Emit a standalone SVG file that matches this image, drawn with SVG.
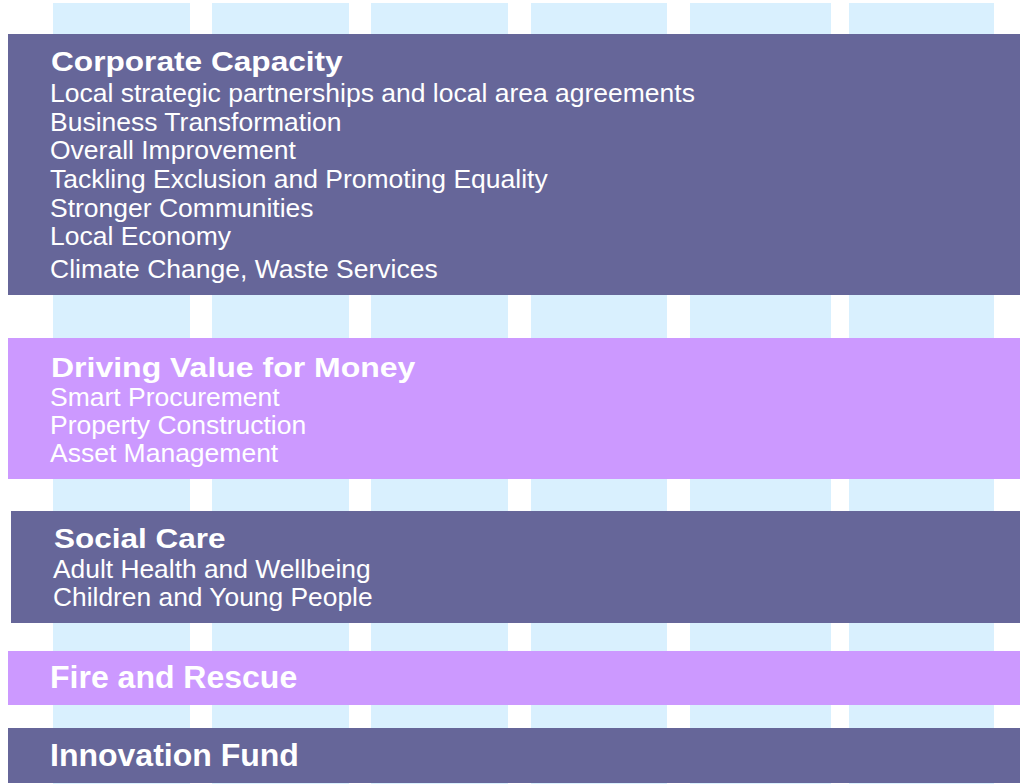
<svg xmlns="http://www.w3.org/2000/svg" width="1020" height="784" viewBox="0 0 1020 784">
<style>
.col{fill:#D9F0FE}
.dark{fill:#666699}
.lilac{fill:#CC99FF}
text{font-family:"Liberation Sans",Arial,Helvetica,sans-serif;fill:#FFFFFF}
.h{font-weight:bold;font-size:28px}
.h2{font-weight:bold;font-size:32px}
.t{font-size:25px}
</style>
<rect width="1020" height="784" fill="#FFFFFF"/>
<g id="columns">
<rect class="col" x="53" y="3" width="137" height="781"/>
<rect class="col" x="212" y="3" width="137" height="781"/>
<rect class="col" x="371" y="3" width="137" height="781"/>
<rect class="col" x="531" y="3" width="136" height="781"/>
<rect class="col" x="690" y="3" width="141" height="781"/>
<rect class="col" x="849" y="3" width="145" height="781"/>
</g>
<g id="corporate-capacity">
<rect class="dark" x="8" y="34" width="1012" height="261"/>
<text class="h" transform="matrix(1.13,0,0,1,51,71)">Corporate Capacity</text>
<text class="t" transform="matrix(1.06,0,0,1,50,102)">Local strategic partnerships and local area agreements</text>
<text class="t" transform="matrix(1.06,0,0,1,50,131)">Business Transformation</text>
<text class="t" transform="matrix(1.06,0,0,1,50,159)">Overall Improvement</text>
<text class="t" transform="matrix(1.06,0,0,1,50,188)">Tackling Exclusion and Promoting Equality</text>
<text class="t" transform="matrix(1.06,0,0,1,50,217)">Stronger Communities</text>
<text class="t" transform="matrix(1.06,0,0,1,50,245)">Local Economy</text>
<text class="t" transform="matrix(1.06,0,0,1,50,278)">Climate Change, Waste Services</text>
</g>
<g id="driving-value">
<rect class="lilac" x="8" y="338" width="1012" height="141"/>
<text class="h" transform="matrix(1.143,0,0,1,51,377)">Driving Value for Money</text>
<text class="t" transform="matrix(1.06,0,0,1,50,406)">Smart Procurement</text>
<text class="t" transform="matrix(1.06,0,0,1,50,434)">Property Construction</text>
<text class="t" transform="matrix(1.06,0,0,1,50,462)">Asset Management</text>
</g>
<g id="social-care">
<rect class="dark" x="11" y="511" width="1009" height="112"/>
<text class="h" transform="matrix(1.125,0,0,1,54,548)">Social Care</text>
<text class="t" transform="matrix(1.055,0,0,1,53,578)">Adult Health and Wellbeing</text>
<text class="t" transform="matrix(1.055,0,0,1,53,606)">Children and Young People</text>
</g>
<g id="fire-rescue">
<rect class="lilac" x="8" y="651" width="1012" height="54"/>
<text class="h2" x="50" y="688">Fire and Rescue</text>
</g>
<g id="innovation-fund">
<rect class="dark" x="8" y="728" width="1012" height="55"/>
<text class="h2" x="50" y="766">Innovation Fund</text>
</g>
<g id="connectors"/>
</svg>
